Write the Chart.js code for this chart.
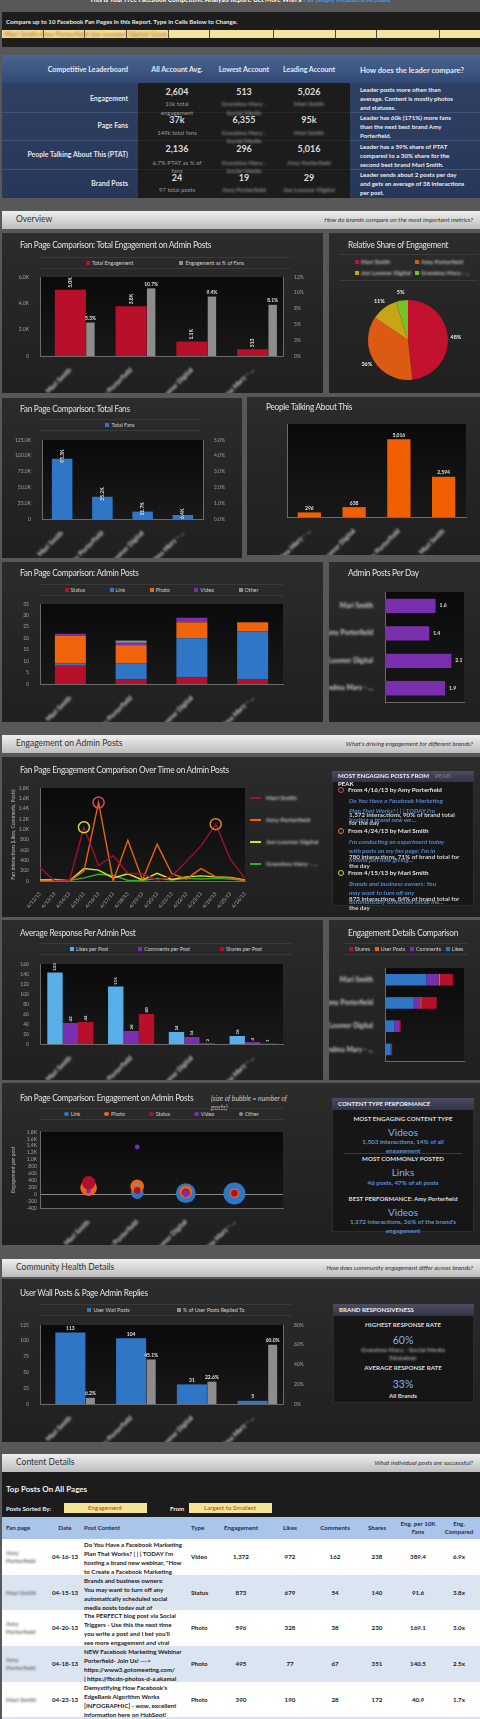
<!DOCTYPE html>
<html><head><meta charset="utf-8">
<title>Facebook Competitive Analysis</title>
<script src="https://cdn.jsdelivr.net/npm/chart.js@4.4.1/dist/chart.umd.min.js"></script>
<style>
*{margin:0;padding:0;box-sizing:border-box}
html,body{width:480px;height:1719px;overflow:hidden}
body{position:relative;background:#585858;font-family:Lato,"Open Sans",Arial,sans-serif;color:#ddd}
.a{position:absolute;white-space:nowrap}
.p{position:absolute;background:linear-gradient(180deg,#2c2c2c 0%,#252525 50%,#202020 100%)}
.sec{position:absolute;left:2px;width:478px;height:18px;background:linear-gradient(180deg,#efefef,#d6d6d6 50%,#bcbcbc)}
.sec b{position:absolute;left:14px;top:2px;font-weight:normal;font-size:8.5px;line-height:13px;color:#333}
.sec em{position:absolute;right:7px;top:3px;font-size:6.4px;line-height:12px;color:#333}
.ttl{position:absolute;font-size:9.2px;letter-spacing:-0.3px;line-height:12px;color:#e2e2e2;white-space:nowrap;transform:scaleX(0.9);transform-origin:0 50%}
.lg{position:absolute;display:flex;justify-content:space-evenly;align-items:center;border-top:1px solid #3a3a3a;border-bottom:1px solid #3a3a3a;font-size:5.3px;color:#d0d0d0;white-space:nowrap}
.lg span{display:inline-flex;align-items:center}
.lg i{display:inline-block;width:4px;height:4px;margin-right:2px}
canvas{position:absolute}
</style></head>
<body>
<script>
// ---------------- DATA ----------------
const brands=["Mari Smith","Amy Porterfield","Jon Loomer Digital","Grandma Mary - Social Media Edutainer"];
const brandShort=["Mari Smith","Amy Porterfield","Jon Loomer Digital","Grandma Mary - ..."];
const totalEngagement=[5026,3780,1097,513];
const engPctFans=[5.3,10.7,9.4,8.1];
const engPctTicks=['0%','3%','5%','8%','10%','12%'];
const totalFans=[95300,35200,11700,6355];
const ptatBrands=["Grandma Mary - ...","Jon Loomer Digital","Amy Porterfield","Mari Smith"];
const ptatValues=[296,638,5016,2594];
const postsStatus=[8,2,3,2];
const postsLink=[1,7,17,21];
const postsPhoto=[12,8,7,4];
const postsVideo=[1,1,2,0];
const postsOther=[0,1,0,0];
const postsPerDay=[1.6,1.4,2.1,1.9];
const dates=["4/12/13","4/13/13","4/14/13","4/15/13","4/16/13","4/17/13","4/18/13","4/19/13","4/20/13","4/21/13","4/22/13","4/23/13","4/24/13","4/25/13","4/26/13"];
const engMari=[260,0,0,1040,300,490,150,140,20,90,380,680,1100,420,50];
const engAmy=[0,0,0,190,1520,0,790,20,710,140,40,240,80,60,10];
const engJon=[20,20,0,240,210,60,140,20,150,30,80,100,80,70,20];
const engGrandma=[10,30,10,60,130,110,10,10,50,20,50,40,50,40,10];
const likesPerPost=[143,115,24,16];
const commentsPerPost=[42,26,14,4];
const sharesPerPost=[44,60,2,1];
const detailLikes=[3146,2185,696,432];
const detailComments=[924,494,406,81];
const detailUserPosts=[113,104,31,5];
const detailShares=[968,1140,58,27];
const engLink=[100,46,28,18];
const engPhoto=[190,230,64,28];
const engStatus=[330,110,46,28];
const engVideo=[95,1372,18,null];
const engOther=[null,275,null,null];
const userWallPosts=[113,104,31,5];
const pctReplied=[6.2,45.1,22.6,60.0];
const pctRepliedTicks=['0%','20%','40%','60%','80%'];
// table
const postPages=["Amy Porterfield","Mari Smith","Amy Porterfield","Amy Porterfield","Mari Smith"];
const postDates=["04-16-13","04-15-13","04-20-13","04-18-13","04-23-13"];
const postTexts=[
 ["Do You Have a Facebook Marketing","Plan That Works? | | | TODAY I'm","hosting a brand new webinar, \"How","to Create a Facebook Marketing"],
 ["Brands and business owners:","You may want to turn off any","automatically scheduled social","media posts todav out of"],
 ["The PERFECT blog post via Social","Triggers - Use this the next time","you write a post and I bet you'll","see more engagement and viral"],
 ["NEW Facebook Marketing Webinar","Porterfield- Join Us! --->","https://www3.gotomeeting.com/","| https://fbcdn-photos-d-a.akamai"],
 ["Demystifying How Facebook's","EdgeRank Algorithm Works","[INFOGRAPHIC] - wow, excellent","information here on HubSpot!"]];
const postTypes=["Video","Status","Photo","Photo","Photo"];
const postEng=["1,372","873","596","495","390"];
const postLikes=["972","679","328","77","190"];
const postComments=["162","54","38","67","28"];
const postShares=["238","140","230","351","172"];
const postPer10k=["389.4","91.6","169.1","140.5","40.9"];
const postCompared=["6.9x","3.8x","3.0x","2.5x","1.7x"];

// ---------------- HELPERS ----------------
const B=document.body;
function R(x,y,w,h,bg,extra){const d=document.createElement('div');d.className='a';d.style.cssText+=`left:${x}px;top:${y}px;width:${w}px;height:${h}px;background:${bg};`+(extra||'');B.appendChild(d);return d;}
function T(x,y,s,st,al){const d=document.createElement('div');d.className='a';d.textContent=s;d.style.cssText+=`left:${x}px;top:${y-5}px;line-height:10px;`+(st||'');if(al==='c')d.style.transform='translateX(-50%)';if(al==='r')d.style.transform='translateX(-100%)';B.appendChild(d);return d;}
function P(x,y,w,h){const d=document.createElement('div');d.className='p';d.style.cssText+=`left:${x}px;top:${y}px;width:${w}px;height:${h}px`;B.appendChild(d);}
function TT(x,y,s){const d=document.createElement('div');d.className='ttl';d.textContent=s;d.style.left=x+'px';d.style.top=(y-6)+'px';B.appendChild(d);return d;}
function S(y,l,r){const d=document.createElement('div');d.className='sec';d.style.top=y+'px';d.innerHTML=`<b>${l}</b><em>${r}</em>`;B.appendChild(d);}
function C(x,y,w,h){const c=document.createElement('canvas');c.width=w;c.height=h;c.style.left=x+'px';c.style.top=y+'px';c.style.width=w+'px';c.style.height=h+'px';B.appendChild(c);return c;}
function LG(x,y,w,h,items,round){const d=document.createElement('div');d.className='lg';d.style.cssText+=`left:${x}px;top:${y}px;width:${w}px;height:${h}px`;d.innerHTML=items.map(it=>`<span><i style="background:${it.c};${round?'border-radius:50%;width:4.5px;height:4.5px':''}"></i>${it.t}</span>`).join('');B.appendChild(d);}
function legendFrom(ch,rev){let it=ch.data.datasets.filter(d=>!String(d.label).startsWith('_')).map(d=>({t:d.label,c:d.backgroundColor}));return rev?it.reverse():it;}
function ringDiv(x,y,c){R(x-3,y-3,6,6,'transparent',`border:1.2px solid ${c};border-radius:50%`);}
const BLUR='filter:blur(1px);';

// ---------------- STATIC LAYOUT ----------------
(function(){const d=document.createElement('div');d.className='a';d.style.cssText='left:0;width:480px;top:-5px;line-height:10px;text-align:center;font-weight:bold;font-size:6.5px;color:#fff';d.innerHTML='This Is Your Free Facebook Competitive Analysis Report. Get More With a <span style="color:#4d9be6">Full Simply Measured Account</span>';B.appendChild(d);})();
R(2,12,478,35,'#1d1d1d');
T(6,22,'Compare up to 10 Facebook Fan Pages in this Report. Type in Cells Below to Change.','font-weight:bold;font-size:6.2px;color:#e8e8e8');
const cellX=[2,43,84,126,168,209,273,335,376,439,480];
for(let i=0;i<10;i++){R(cellX[i],30,cellX[i+1]-cellX[i],8,'#f2e49c',i?'border-left:1px solid #4a4a4a':'');}
T(4,34,'Mari Smith  Amy Porterfield  Jon Loomer Digital  Grandma Mary - Social','font-weight:bold;font-size:7px;color:#c2773a;filter:blur(1.4px);width:164px;overflow:hidden');

// leaderboard
R(2,55,478,28,'linear-gradient(180deg,#4a6592,#314873)');
R(2,83,136,115,'linear-gradient(180deg,#2f4063,#27375a)');
R(138,83,212,115,'#1c1c1c');
R(350,83,130,115,'linear-gradient(180deg,#2f4063,#27375a)');
[112,140,169].forEach(y=>{R(2,y,136,1,'#40537a');R(350,y,130,1,'#40537a');R(138,y,212,1,'#262626');});
const hd='font-weight:bold;font-size:7.1px;color:#e2e8f3';
T(128,70,'Competitive Leaderboard',hd,'r');T(177,70,'All Account Avg.',hd,'c');T(244,70,'Lowest Account',hd,'c');T(309,70,'Leading Account',hd,'c');T(360,70,'How does the leader compare?',hd+';font-size:7.6px');
const rl='font-weight:bold;font-size:6.9px;color:#e6e6e6';
T(128,98,'Engagement',rl,'r');T(128,125,'Page Fans',rl,'r');T(128,154,'People Talking About This (PTAT)',rl,'r');T(128,183,'Brand Posts',rl,'r');
const vs='font-weight:bold;font-size:9px;color:#dcdcdc';
[[177,92,'2,604'],[244,92,'513'],[309,92,'5,026'],[177,120,'37k'],[244,120,'6,355'],[309,120,'95k'],[177,149,'2,136'],[244,149,'296'],[309,149,'5,016'],[177,178,'24'],[244,178,'19'],[309,178,'29']].forEach(v=>T(v[0],v[1],v[2],vs,'c'));
const ss='font-size:6px;color:#9a9a9a';
[[177,104,'10k total'],[177,113,'engagement'],[177,133,'149k total fans'],[177,163,'6.7% PTAT as % of'],[177,171,'fans'],[177,190,'97 total posts']].forEach(v=>T(v[0],v[1],v[2],ss,'c'));
const sb='font-weight:bold;font-size:6.2px;color:#8e8e8e;'+BLUR;
[[244,104,'Grandma Mary -'],[244,113,'Social Media'],[309,104,'Mari Smith'],[244,133,'Grandma Mary -'],[244,141,'Social Media'],[309,133,'Mari Smith'],[244,163,'Grandma Mary -'],[244,171,'Social Media'],[309,163,'Amy Porterfield'],[244,190,'Amy Porterfield'],[309,190,'Jon Loomer Digital']].forEach(v=>T(v[0],v[1],v[2],sb,'c'));
const rs='font-weight:bold;font-size:6.2px;color:#ececec';
[[90,'Leader posts more often than'],[99,'average. Content is mostly photos'],[108,'and statuses.'],[118,'Leader has 60k (171%) more fans'],[127,'than the next best brand Amy'],[136,'Porterfield.'],[147,'Leader has a 59% share of PTAT'],[156,'compared to a 30% share for the'],[165,'second best brand Mari Smith.'],[175,'Leader sends about 2 posts per day'],[184,'and gets an average of 38 interactions'],[193,'per post.']].forEach(v=>T(360,v[0],v[1],rs));

// sections
S(211,'Overview','How do brands compare on the most important metrics?');
S(735,'Engagement on Admin Posts',"What's driving engagement for different brands?");
S(1259,'Community Health Details','How does community engagement differ across brands?');
S(1454,'Content Details','What individual posts are successful?');

// panels
P(2,233,321,160);P(329,233,151,160);
P(2,398,240,160);P(247,397,233,158);
P(2,562,321,160);P(329,562,151,160);
P(2,757,478,160);
P(2,920,321,160);P(329,920,151,160);
P(2,1083,478,162);
P(2,1279,478,163);

// titles
TT(20,245,'Fan Page Comparison: Total Engagement on Admin Posts');
TT(348,245,'Relative Share of Engagement');
TT(20,409,'Fan Page Comparison: Total Fans');
TT(266,407,'People Talking About This');
TT(20,573,'Fan Page Comparison: Admin Posts');
TT(348,573,'Admin Posts Per Day');
TT(20,770,'Fan Page Engagement Comparison Over Time on Admin Posts');
TT(20,933,'Average Response Per Admin Post');
TT(348,933,'Engagement Details Comparison');
TT(20,1098,'Fan Page Comparison: Engagement on Admin Posts');
T(211,1098,'(size of bubble = number of','font-style:italic;font-size:6.8px;color:#c8c8c8');
T(211,1107,'posts)','font-style:italic;font-size:6.8px;color:#c8c8c8');
TT(20,1293,'User Wall Posts & Page Admin Replies');

// ---------------- CHARTS ----------------
Chart.defaults.font.family='Lato, "Open Sans", sans-serif';
Chart.defaults.color='#a8a8a8';
Chart.defaults.animation=false;
Chart.defaults.responsive=false;
Chart.defaults.devicePixelRatio=1;
Chart.defaults.plugins.legend.display=false;
Chart.defaults.plugins.tooltip.enabled=false;
Chart.defaults.events=[];

const RED='#b80f2b',GRAY='#8d8d8d',BLUE='#2f76c6',ORANGE='#f0640c',PURPLE='#7a2fae',LBLUE='#58aee9';
const PIE=['#c3122f','#dc5a12','#c8a416','#76c125'];
const fmtK=v=>Math.abs(v)>=1000?(v/1000).toFixed(1)+'K':String(v);
const tk=o=>Object.assign({font:{size:5},color:'#a0a0a0',padding:3,autoSkip:false},o||{});
const bd={color:'#6a6a6a',width:1};
const noGrid={display:false};
const blurFont={size:6.8,weight:'bold'};
const blurColor='#d2d2d2';
const xCat=(h,extra)=>Object.assign({grid:noGrid,border:bd,ticks:tk({minRotation:45,maxRotation:45,z:1,color:blurColor,font:blurFont,padding:2}),afterFit:s=>{s.height=h}},extra||{});
const yLin=(w,min,max,step,cb,extra)=>Object.assign({min,max,grid:noGrid,border:bd,ticks:tk({stepSize:step,callback:cb}),afterFit:s=>{s.width=w}},extra||{});

const plotBg={id:'plotBg',beforeDraw(c){const a=c.chartArea,ctx=c.ctx;const g=ctx.createLinearGradient(0,a.top,0,a.bottom);g.addColorStop(0,'#0a0a0a');g.addColorStop(1,'#181818');ctx.save();ctx.fillStyle=g;ctx.fillRect(a.left,a.top,a.right-a.left,a.bottom-a.top);ctx.restore();}};
const valueLabels={id:'valueLabels',afterDatasetsDraw(chart){const ctx=chart.ctx;chart.data.datasets.forEach((ds,i)=>{const o=ds.vl;if(!o)return;const meta=chart.getDatasetMeta(i);meta.data.forEach((el,j)=>{const v=ds.data[j];if(v==null)return;const s=o.fmt(v);ctx.save();ctx.font=`bold ${o.size||5}px Lato`;ctx.fillStyle=o.color||'#e0e0e0';
 if(o.mode==='rot'){ctx.translate(el.x,el.y+(o.dy||0));ctx.rotate(-Math.PI/2);ctx.textAlign='left';ctx.textBaseline='middle';ctx.fillText(s,0,0);}
 else if(o.mode==='right'){ctx.textAlign='left';ctx.textBaseline='middle';ctx.fillText(s,el.x+4,el.y);}
 else{ctx.textAlign='center';ctx.textBaseline='bottom';ctx.fillText(s,el.x,el.y-1.5);}
 ctx.restore();});});}};
// blur the (z:1) name tick labels drawn after the datasets
const blurTicks={id:'blurTicks',afterDatasetsDraw(c){c.ctx.save();c.ctx.filter='blur(1.1px)';},afterDraw(c){c.ctx.restore();}};
const pieLabels={id:'pieLabels',afterDatasetsDraw(chart){const ctx=chart.ctx,meta=chart.getDatasetMeta(0),ds=chart.data.datasets[0];const tot=ds.data.reduce((a,b)=>a+b,0);meta.data.forEach((el,j)=>{const a=(el.startAngle+el.endAngle)/2,r=el.outerRadius+8;ctx.save();ctx.font='bold 5.5px Lato';ctx.fillStyle='#eaeaea';ctx.textAlign='center';ctx.textBaseline='middle';ctx.fillText(Math.round(ds.data[j]/tot*100)+'%',el.x+Math.cos(a)*r,el.y+Math.sin(a)*r);ctx.restore();});}};
const nulls=n=>Array(n).fill(null);

// A: Total engagement
const chA=new Chart(C(2,270,321,123),{type:'bar',data:{labels:brandShort,datasets:[
 {label:'_gap',data:nulls(4),barPercentage:1,categoryPercentage:.99},
 {label:'Total Engagement',data:totalEngagement,backgroundColor:RED,barPercentage:1.55,categoryPercentage:.99,vl:{mode:'rot',dy:-2,fmt:fmtK}},
 {label:'Engagement as % of Fans',data:engPctFans,backgroundColor:GRAY,yAxisID:'y1',barPercentage:.42,categoryPercentage:.99,vl:{fmt:v=>v.toFixed(1)+'%'}}]},
 options:{layout:{padding:{top:7}},scales:{x:xCat(37),y:yLin(38,0,6000,2000,fmtK),y1:yLin(40,0,12.5,2.5,(v,i)=>engPctTicks[i],{position:'right'})}},
 plugins:[plotBg,valueLabels,blurTicks]});
LG(40,257,250,12,legendFrom(chA));

// B: Pie
new Chart(C(343,285,130,110),{type:'pie',data:{labels:brands,datasets:[{data:totalEngagement,backgroundColor:PIE,borderWidth:0}]},
 options:{layout:{padding:{left:25,right:25,top:15,bottom:15}}},plugins:[pieLabels]});
R(339,254,139,1,'#3a3a3a');R(339,280,139,1,'#3a3a3a');
[[355,262,0],[415,262,1],[355,273,2],[415,273,3]].forEach(p=>{R(p[0],p[1]-2,4,4,PIE[p[2]]);T(p[0]+6,p[1],brandShort[p[2]],'font-weight:bold;font-size:6px;color:#c4c4c4;'+BLUR);});

// C: Total fans
const chC=new Chart(C(2,433,240,125),{type:'bar',data:{labels:brandShort,datasets:[
 {label:'Total Fans',data:totalFans,backgroundColor:BLUE,barPercentage:.51,categoryPercentage:1,vl:{mode:'rot',dy:4,fmt:fmtK}}]},
 options:{layout:{padding:{top:7}},scales:{x:xCat(39),y:yLin(40,0,125000,25000,fmtK),y1:yLin(39,0,5,1,v=>v.toFixed(1)+'%',{position:'right'})}},
 plugins:[plotBg,valueLabels,blurTicks]});
LG(40,419,160,12,legendFrom(chC));

// D: PTAT
new Chart(C(247,421,233,134),{type:'bar',data:{labels:ptatBrands,datasets:[
 {label:'People Talking About This',data:ptatValues,backgroundColor:'#f25f00',barPercentage:.52,categoryPercentage:1,vl:{fmt:v=>v.toLocaleString('en-US')}}]},
 options:{layout:{padding:{top:3,left:40,right:14}},scales:{x:xCat(38),y:{min:0,max:6000,grid:noGrid,border:bd,ticks:{display:false},afterFit:s=>{s.width=0}}}},
 plugins:[plotBg,valueLabels,blurTicks]});

// E: Admin posts stacked
const chE=new Chart(C(2,597,321,125),{type:'bar',data:{labels:brandShort,datasets:[
 {label:'Status',data:postsStatus,backgroundColor:RED},
 {label:'Link',data:postsLink,backgroundColor:BLUE},
 {label:'Photo',data:postsPhoto,backgroundColor:ORANGE},
 {label:'Video',data:postsVideo,backgroundColor:PURPLE},
 {label:'Other',data:postsOther,backgroundColor:GRAY}].map(d=>Object.assign(d,{barPercentage:.51,categoryPercentage:1}))},
 options:{layout:{padding:{top:7,right:40}},scales:{x:xCat(38,{stacked:true}),y:yLin(38,0,35,5,v=>v,{stacked:true})}},
 plugins:[plotBg,blurTicks]});
LG(40,584,243,12,legendFrom(chE));

// F: posts per day
new Chart(C(329,584,151,136),{type:'bar',data:{labels:brandShort,datasets:[
 {label:'Admin Posts Per Day',data:postsPerDay,backgroundColor:PURPLE,barPercentage:.52,categoryPercentage:1,vl:{mode:'right',fmt:v=>v.toFixed(1)}}]},
 options:{indexAxis:'y',layout:{padding:{top:3,right:16}},scales:{
  x:{min:0,max:2.5,grid:noGrid,border:bd,ticks:{display:false},afterFit:s=>{s.height=18}},
  y:{grid:noGrid,border:bd,ticks:tk({z:1,color:blurColor,font:blurFont,padding:4}),afterFit:s=>{s.width=56}}}},
 plugins:[plotBg,valueLabels,blurTicks]});

// G: line over time
const lineDs=(label,data,color)=>({label,data,borderColor:color,backgroundColor:color,borderWidth:1.4,pointRadius:0,tension:0,order:2});
const ring=(idx,series,color)=>({label:'_peak',data:series.map((v,i)=>i===idx?v:null),showLine:false,pointRadius:5.5,pointBorderWidth:1.5,pointBorderColor:color,pointBackgroundColor:'rgba(0,0,0,0)',order:1});
const LC=['#a0102e','#e8640f','#e0dc30','#2fae2f'];
new Chart(C(2,781,250,134),{type:'line',data:{labels:dates,datasets:[
 lineDs(brands[0],engMari,LC[0]),lineDs(brands[1],engAmy,LC[1]),lineDs(brands[2],engJon,LC[2]),lineDs(brands[3],engGrandma,LC[3]),
 ring(4,engAmy,'#d84a5a'),ring(12,engMari,'#d9843a'),ring(3,engMari,'#d6d040')]},
 options:{layout:{padding:{top:6,left:8,right:4}},scales:{
  x:{offset:false,grid:noGrid,border:bd,ticks:tk({minRotation:50,maxRotation:50,font:{size:5},color:'#b0b0b0',padding:2}),afterFit:s=>{s.height=34}},
  y:yLin(30,0,1800,200,fmtK,{title:{display:true,text:'Fan Interactions (Likes, Comments, Posts)',font:{size:5},color:'#b8b8b8',padding:0}})}},
 plugins:[plotBg]});
[798,820,842,864].forEach((y,i)=>{R(250,y-0.7,11,1.5,LC[i]);T(266,y,brandShort[i],'font-weight:bold;font-size:6.3px;color:#c4c4c4;'+BLUR);});

// Most engaging posts box
R(332,771,142,135,'#171717','border:1px solid #2c2c2c');
R(332,771,142,11,'linear-gradient(180deg,#4c4c60,#333347)');
T(338,776,'MOST ENGAGING POSTS FROM','font-weight:bold;font-size:6.1px;color:#eee');
T(435,776,'PEAK','font-weight:bold;font-size:6.1px;color:#777');
T(338,784,'PEAK','font-weight:bold;font-size:6.1px;color:#eee');
const fr='font-weight:bold;font-size:6.3px;color:#e2e2e2',bi='font-weight:bold;font-style:italic;font-size:6.3px;color:#4f86d0',gi='font-weight:bold;font-size:6.3px;color:#cfcfcf';
ringDiv(341,790,'#d84a5a');T(348,790,'From 4/16/13 by Amy Porterfield',fr);
T(349,801,'Do You Have a Facebook Marketing',bi);T(349,811,'Plan That Works? | | | TODAY I\'m',bi);T(349,820,'hosting a brand new we...',bi);
T(349,815,'1,372 interactions, 90% of brand total',gi);T(349,823,'for the day',gi);
ringDiv(341,831,'#d9843a');T(348,831,'From 4/24/13 by Mari Smith',fr);
T(349,842,'I\'m conducting an experiment today',bi);T(349,851,'with posts on my fan page: I\'m in',bi);T(349,860,'Ireland just now giving...',bi);
T(349,857,'780 interactions, 71% of brand total for',gi);T(349,866,'the day',gi);
ringDiv(341,873,'#d6d040');T(348,873,'From 4/15/13 by Mari Smith',fr);
T(349,884,'Brands and business owners: You',bi);T(349,893,'may want to turn off any',bi);T(349,902,'automatically scheduled social me...',bi);
T(349,899,'873 interactions, 84% of brand total for',gi);T(349,908,'the day',gi);

// H: Average response
const chH=new Chart(C(2,957,321,123),{type:'bar',data:{labels:brandShort,datasets:[
 {label:'Likes per Post',data:likesPerPost,backgroundColor:LBLUE},
 {label:'Comments per Post',data:commentsPerPost,backgroundColor:PURPLE},
 {label:'Shares per Post',data:sharesPerPost,backgroundColor:RED}].map(d=>Object.assign(d,{barPercentage:1,categoryPercentage:.76,vl:{mode:'rot',dy:-1.5,size:4.5,fmt:v=>String(v)}}))},
 options:{layout:{padding:{top:7,right:40}},scales:{x:xCat(36),y:yLin(38,0,160,20,v=>v)}},
 plugins:[plotBg,valueLabels,blurTicks]});
LG(40,943,252,12,legendFrom(chH));

// I: engagement details stacked horizontal
const chI=new Chart(C(329,960,151,118),{type:'bar',data:{labels:brandShort,datasets:[
 {label:'Likes',data:detailLikes,backgroundColor:BLUE},
 {label:'Comments',data:detailComments,backgroundColor:PURPLE},
 {label:'User Posts',data:detailUserPosts,backgroundColor:ORANGE},
 {label:'Shares',data:detailShares,backgroundColor:RED}].map(d=>Object.assign(d,{barPercentage:.5,categoryPercentage:1}))},
 options:{indexAxis:'y',layout:{padding:{top:3,right:16}},scales:{
  x:{stacked:true,min:0,max:6000,grid:noGrid,border:bd,ticks:{display:false},afterFit:s=>{s.height=17}},
  y:{stacked:true,grid:noGrid,border:bd,ticks:tk({z:1,color:blurColor,font:blurFont,padding:4}),afterFit:s=>{s.width=56}}}},
 plugins:[plotBg,blurTicks]});
LG(344,943,124,12,legendFrom(chI,true));

// J: bubble
const bub=(label,eng,posts,color,order)=>({label,order,backgroundColor:color,borderWidth:0,
 data:eng.map((v,i)=>(v==null||!posts[i])?null:{x:i+1,y:v,r:2.4*Math.sqrt(posts[i])}).filter(Boolean)});
const chJ=new Chart(C(2,1121,321,124),{type:'bubble',data:{datasets:[
 bub('Link',engLink,postsLink,'#2f76c6',5),bub('Photo',engPhoto,postsPhoto,'#ee6510',4),bub('Status',engStatus,postsStatus,'#b0102c',3),
 bub('Video',engVideo,postsVideo,'#7a2fae',2),bub('Other',engOther,postsOther,'#8a8a8a',1)]},
 options:{layout:{padding:{top:7,left:8,right:40}},scales:{
  x:{type:'linear',min:0,max:5,grid:noGrid,border:bd,ticks:tk({stepSize:1,z:1,minRotation:45,maxRotation:45,color:blurColor,font:blurFont,padding:2,callback:v=>(v>=1&&v<=4)?brandShort[v-1]:''}),afterFit:s=>{s.height=37}},
  y:{min:-400,max:1800,grid:{color:c=>c.tick&&c.tick.value===0?'#8a8a8a':'rgba(0,0,0,0)',drawTicks:false},border:bd,ticks:tk({stepSize:200,callback:fmtK}),title:{display:true,text:'Engagement per post',font:{size:5},color:'#b8b8b8',padding:0},afterFit:s=>{s.width=30}}}},
 plugins:[plotBg,blurTicks]});
LG(40,1108,243,12,legendFrom(chJ),true);

// Content type performance box
R(332,1098,142,134,'#161616','border:1px solid #2c2c2c');
R(332,1098,142,12,'linear-gradient(180deg,#4c4c60,#333347)');
T(338,1104,'CONTENT TYPE PERFORMANCE','font-weight:bold;font-size:6.1px;color:#eee');
const ch='font-weight:bold;font-size:6.2px;color:#dcdcdc',cv='font-size:10px;color:#7fb2ee',cb='font-weight:bold;font-size:6.3px;color:#5b93dc';
T(403,1119,'MOST ENGAGING CONTENT TYPE',ch,'c');T(403,1132,'Videos',cv,'c');T(403,1142,'1,503 interactions, 14% of all',cb,'c');T(403,1151,'engagement',cb,'c');
R(344,1153,118,1,'#3a3a3a');
T(403,1159,'MOST COMMONLY POSTED',ch,'c');T(403,1172,'Links',cv,'c');T(403,1183,'46 posts, 47% of all posts',cb,'c');
T(403,1199,'BEST PERFORMANCE: Amy Porterfield',ch,'c');T(403,1212,'Videos',cv,'c');T(403,1222,'1,372 interactions, 36% of the brand\'s',cb,'c');T(403,1231,'engagement',cb,'c');

// K: User wall posts
const chK=new Chart(C(2,1318,321,124),{type:'bar',data:{labels:brandShort,datasets:[
 {label:'_gap',data:nulls(4),barPercentage:1,categoryPercentage:.99},
 {label:'User Wall Posts',data:userWallPosts,backgroundColor:BLUE,barPercentage:1.5,categoryPercentage:.99,vl:{fmt:v=>String(v)}},
 {label:'% of User Posts Replied To',data:pctReplied,backgroundColor:GRAY,yAxisID:'y1',barPercentage:.45,categoryPercentage:.99,vl:{fmt:v=>v.toFixed(1)+'%'}}]},
 options:{layout:{padding:{top:7}},scales:{x:xCat(38),y:yLin(38,0,125,25,v=>v),y1:yLin(40,0,80,20,(v,i)=>pctRepliedTicks[i],{position:'right'})}},
 plugins:[plotBg,valueLabels,blurTicks]});
LG(40,1304,252,12,legendFrom(chK));

// Brand responsiveness box
R(333,1304,141,99,'#161616','border:1px solid #2c2c2c');
R(333,1304,141,12,'linear-gradient(180deg,#4c4c60,#333347)');
T(339,1310,'BRAND RESPONSIVENESS','font-weight:bold;font-size:6.1px;color:#eee');
T(403,1325,'HIGHEST RESPONSE RATE',ch,'c');T(403,1340,'60%','font-size:10.5px;color:#7fb2ee','c');
T(403,1350,'Grandma Mary - Social Media','font-weight:bold;font-size:6.4px;color:#a8a8a8;'+BLUR,'c');T(403,1358,'Edutainer','font-weight:bold;font-size:6.4px;color:#a8a8a8;'+BLUR,'c');
T(403,1368,'AVERAGE RESPONSE RATE',ch,'c');T(403,1384,'33%','font-size:10.5px;color:#7fb2ee','c');T(403,1396,'All Brands',ch,'c');

// ---------------- TABLE ----------------
R(2,1472,478,45,'#1c1c1c');
T(6,1489,'Top Posts On All Pages','font-weight:bold;font-size:8px;color:#f0f0f0');
T(6,1509,'Posts Sorted By:','font-weight:bold;font-size:6.2px;color:#f0f0f0');
R(64,1503,83,10,'#f4e596');T(105,1508,'Engagement','font-size:6.3px;color:#c0392b','c');
T(170,1509,'From','font-weight:bold;font-size:6.2px;color:#f0f0f0');
R(189,1503,83,10,'#f4e596');T(230,1508,'Largest to Smallest','font-size:6.3px;color:#c0392b','c');
R(2,1517,478,22,'#a9c6ea');
const th='font-weight:bold;font-size:6.2px;color:#1f2f4f';
T(6,1528,'Fan page',th);T(65,1528,'Date',th,'c');T(84,1528,'Post Content',th);T(191,1528,'Type',th);T(241,1528,'Engagement',th,'c');T(290,1528,'Likes',th,'c');T(335,1528,'Comments',th,'c');T(377,1528,'Shares',th,'c');
T(418,1524,'Eng. per 10K',th,'c');T(418,1532,'Fans',th,'c');T(459,1524,'Eng.',th,'c');T(459,1532,'Compared',th,'c');
const td='font-weight:bold;font-size:6.2px;color:#1a1a1a';
const nmSt=td+';color:#666;'+BLUR;
const rowTop=[1539,1575,1610,1646,1682,1717];
for(let i=0;i<5;i++){
 const y=rowTop[i],h=rowTop[i+1]-y,mid=y+h/2;
 R(2,y,478,h,i%2?'#dbe5f1':'#ffffff');
 const nm=postPages[i].split(' ');
 if(postPages[i]==='Mari Smith')T(6,mid,postPages[i],nmSt);
 else{T(6,mid-4,nm[0],nmSt);T(6,mid+4,nm.slice(1).join(' '),nmSt);}
 T(65,mid,postDates[i],td,'c');
 const box=R(84,y,104,h,'transparent','overflow:hidden');
 postTexts[i].forEach((s,k)=>{const d=document.createElement('div');d.className='a';d.textContent=s;d.style.cssText+=`left:0;top:${1+k*9}px;line-height:9px;`+td;box.appendChild(d);});
 T(191,mid,postTypes[i],td);T(241,mid,postEng[i],td,'c');T(290,mid,postLikes[i],td,'c');T(335,mid,postComments[i],td,'c');T(377,mid,postShares[i],td,'c');T(418,mid,postPer10k[i],td,'c');T(459,mid,postCompared[i],td,'c');
}
R(2,1717,478,2,'#dbe5f1');
</script>
</body></html>
